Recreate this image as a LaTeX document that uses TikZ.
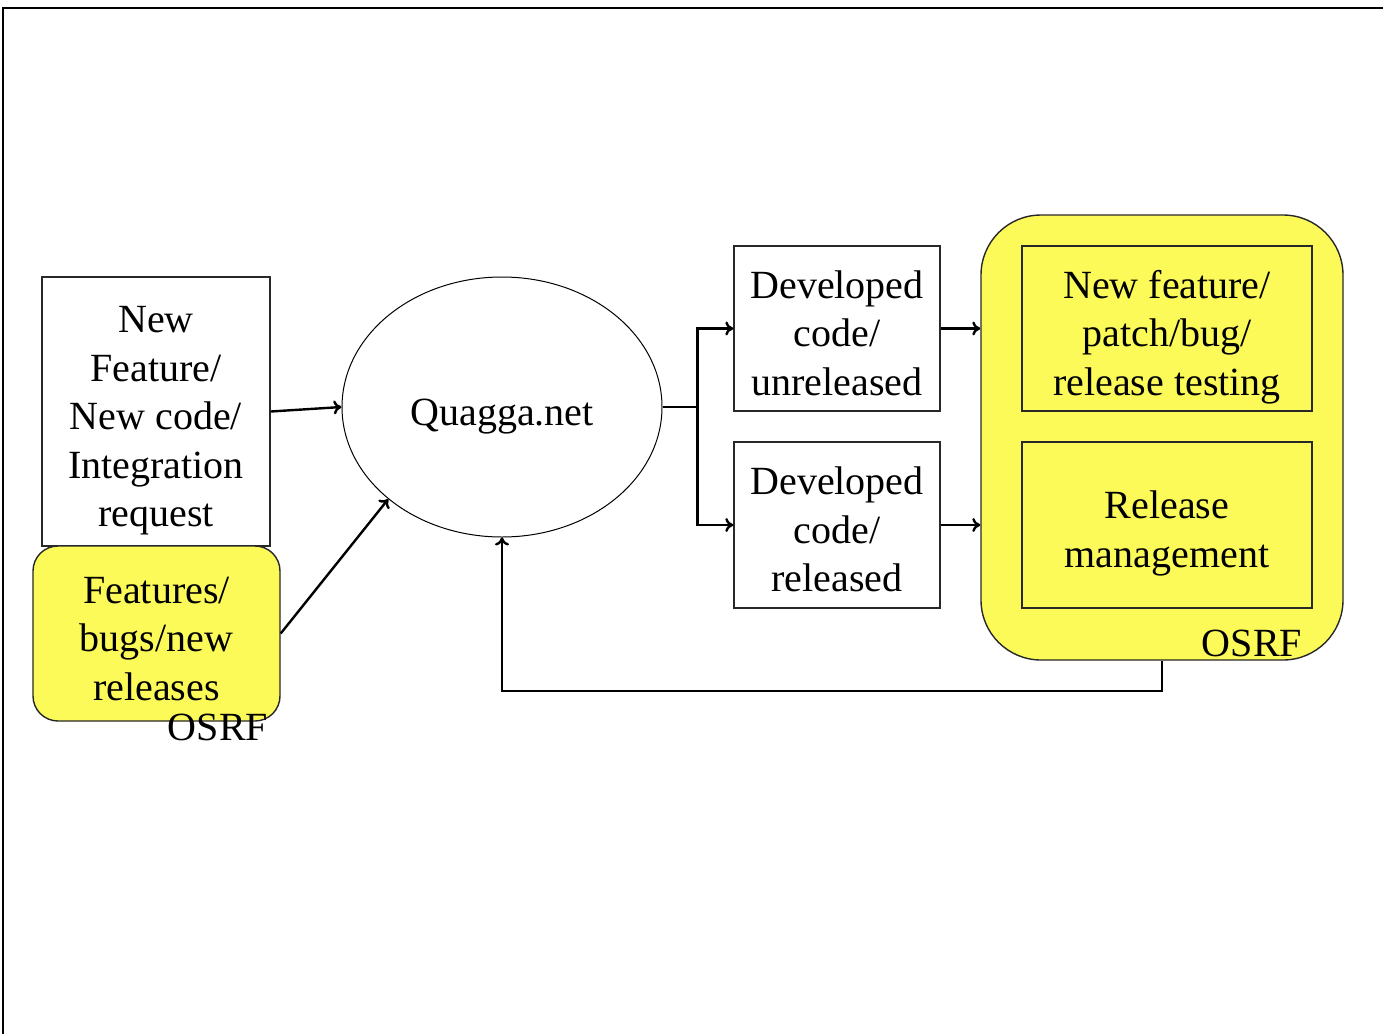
\documentclass[tikz,border=0pt]{standalone}
\usepackage{fontspec}
\setmainfont{Liberation Serif}
\usepackage{tikz}
\usetikzlibrary{arrows,arrows.meta,calc,positioning,shapes,shapes.geometric}
\definecolor{osrfyellow}{RGB}{252,250,88}
\definecolor{boxline}{RGB}{40,40,40}
\newcommand{\lift}{\rule{0pt}{18pt}}

\begin{document}
\begin{tikzpicture}[x=0.5pt,y=-0.5pt,
		every node/.style={font=\fontsize{20pt}{24.25pt}\selectfont,align=center,inner sep=0pt,text depth=0pt},
		plainbox/.style={draw=boxline,line width=0.7pt,fill=white,minimum width=#1},
		plainbox/.default=103pt,
		osrfbox/.style={draw=boxline,line width=0.7pt,fill=osrfyellow,rounded corners=#1},
		flow/.style={-{To[length=4pt,width=7pt]},line width=1.2pt}]
	\useasboundingbox (0,0) rectangle (1383,1034);
	% frame
	\draw[line width=1pt] (1383,8) -- (3,8) -- (3,1034);

	% sources
	\node[plainbox=114pt,minimum height=134.5pt] (newreq) at (156,411.5) {\lift New\\Feature/\\New code/\\Integration\\request};
	\node[osrfbox=12.5pt,minimum width=123.5pt,minimum height=87.5pt] (bugs) at (156.5,633.5) {\lift Features/\\bugs/new\\releases};
	\node (osrfa) at (218,727) {OSRF};

	% Quagga
	\node[ellipse,draw,line width=0.5pt,minimum width=160pt,minimum height=130pt] (quagga) at (502,407) {\lift Quagga.net};

	% developed code
	\node[plainbox,minimum height=82.5pt] (unrel) at (837,328.5) {\lift Developed\\code/\\unreleased};
	\node[plainbox,minimum height=83pt] (rel) at (837,525) {\lift Developed\\code/\\released};

	% OSRF group
	\node[osrfbox=30pt,minimum width=181pt,minimum height=222.5pt] (osrf) at (1162,437.5) {};
	\node[osrfbox=0pt,minimum width=145pt,minimum height=82.5pt] (testing) at (1167,328.5) {\lift New feature/\\patch/bug/\\release testing};
	\node[osrfbox=0pt,minimum width=145pt,minimum height=83pt] (relmgmt) at (1167,525) {\lift Release\\management};
	\node (osrfb) at (1252,643) {OSRF};

	\draw[flow] (newreq.east) -- (quagga.west);
	\draw[flow] (bugs.east) -- (quagga.219);
	\draw[line width=1.2pt] (quagga.east) -- ++(35,0) coordinate (fork);
	\foreach \n in {unrel,rel}{
			\draw[flow] (fork) |- (\n.west);
			\draw[flow] (\n.east) -- (\n.east -| osrf.west);
		}
	\draw[flow] (osrf.south) -- ++(0,30) -| (quagga.south);
\end{tikzpicture}
\end{document}
